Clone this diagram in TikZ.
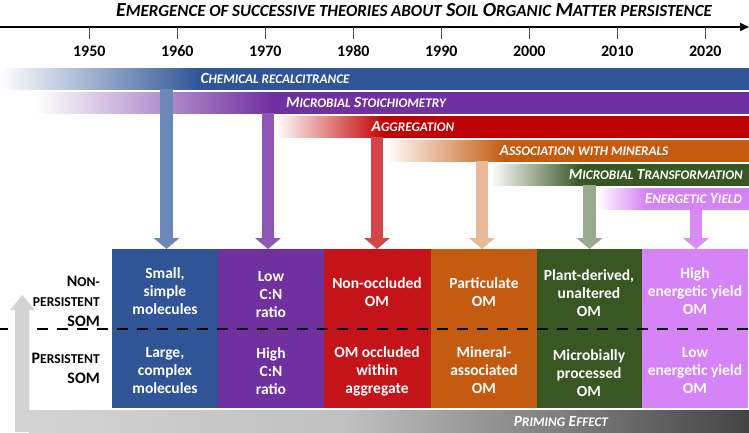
\documentclass[tikz,border=0pt]{standalone}
\usepackage{fontspec}
\setmainfont{Carlito}
\usetikzlibrary{arrows.meta}
\makeatletter
\newcommand\fsc[1]{{\fontsize{\the\dimexpr0.85\dimexpr\f@size pt\relax\relax}{\f@baselineskip}\selectfont #1}}
\makeatother
\definecolor{cBlue}{HTML}{2F5597}
\definecolor{cPurple}{HTML}{7030A0}
\definecolor{cRed}{HTML}{C00000}
\definecolor{cRedBox}{HTML}{C51419}
\definecolor{cOrange}{HTML}{C55A11}
\definecolor{cGreen}{HTML}{385723}
\definecolor{cPink}{HTML}{D683F7}
\definecolor{aBlue}{HTML}{6C88B9}
\definecolor{aPurple}{HTML}{8D58B5}
\definecolor{aRed}{HTML}{D4454A}
\definecolor{aOrange}{HTML}{E8B898}
\definecolor{aGreen}{HTML}{98A98C}
\definecolor{aPink}{HTML}{D98BF5}
\definecolor{gLight}{HTML}{D3D3D3}
\definecolor{gMid}{HTML}{C0C0C0}
\definecolor{gDark}{HTML}{444444}
\pgfdeclarehorizontalshading{shChem}{100bp}{color(0bp)=(white); color(25bp)=(white); color(38.35bp)=(cBlue); color(100bp)=(cBlue)}
\pgfdeclarehorizontalshading{shStoi}{100bp}{color(0bp)=(white); color(25bp)=(white); color(41.6bp)=(cPurple); color(100bp)=(cPurple)}
\pgfdeclarehorizontalshading{shAggr}{100bp}{color(0bp)=(white); color(25bp)=(white); color(36.6bp)=(cRed); color(100bp)=(cRed)}
\pgfdeclarehorizontalshading{shAsso}{100bp}{color(0bp)=(white); color(25bp)=(white); color(41.5bp)=(cOrange); color(100bp)=(cOrange)}
\pgfdeclarehorizontalshading{shTran}{100bp}{color(0bp)=(white); color(25bp)=(white); color(42.4bp)=(cGreen); color(100bp)=(cGreen)}
\pgfdeclarehorizontalshading{shEner}{100bp}{color(0bp)=(white); color(25bp)=(white); color(40.8bp)=(cPink); color(100bp)=(cPink)}
\pgfdeclarehorizontalshading{shPrime}{100bp}{color(0bp)=(gLight); color(25bp)=(gLight); color(47bp)=(gMid); color(75bp)=(gDark); color(100bp)=(gDark)}
\tikzset{
  band/.style={shade, inner sep=0pt, minimum height=21pt, anchor=north west, draw=none},
  bandlabel/.style={text=white, font=\fontsize{15.5}{18}\selectfont\bfseries\itshape, inner sep=0pt},
  box/.style={inner sep=0pt, minimum height=159pt, anchor=north west, draw=none},
  boxtext/.style={text=white, font=\fontsize{15.5}{18}\selectfont\bfseries, align=center, inner sep=0pt},
  fat/.style={line width=12.6pt, -{Triangle[length=11pt,width=26pt,line width=0pt]}},
  yearlabel/.style={font=\fontsize{16}{19}\selectfont\bfseries, inner sep=0pt},
  tickline/.style={line width=0.9pt, draw=black!70},
  sidelabel/.style={font=\fontsize{16}{20}\selectfont\bfseries, align=right, inner sep=0pt, anchor=east},
  divider/.style={line width=2.7pt, dash pattern=on 11pt off 9pt, dash phase=3.3pt},
}
\begin{document}
\begin{tikzpicture}[x=1pt,y=-1pt]
\useasboundingbox (0,0) rectangle (749,433);
% title
\node[font=\fontsize{19.9}{22}\selectfont\bfseries\itshape, inner sep=0pt] (title) at (414,10)
  {E\fsc{MERGENCE OF SUCCESSIVE THEORIES ABOUT} S\fsc{OIL} O\fsc{RGANIC} M\fsc{ATTER PERSISTENCE}};
% axis
\coordinate (axL) at (0,27);
\coordinate (axR) at (749,27);
\draw[line width=1.6pt, -{Triangle[length=9pt,width=8pt]}] (axL) -- (axR);
\foreach \yr [count=\i from 0] in {1950,1960,1970,1980,1990,2000,2010,2020}{
  \coordinate (t\yr) at ({89.3+88*\i},27);
  \coordinate (b\yr) at ({89.3+88*\i},39);
  \draw[tickline] (t\yr) -- (b\yr);
  \node[yearlabel] (y\yr) at ({89.3+88*\i},51) {\yr};
}
% bands
\node[band, shading=shChem, minimum width=749pt] (bChem) at (0,68) {};
\node[band, shading=shStoi, minimum width=714pt] (bStoi) at (35,92) {};
\node[band, shading=shAggr, minimum width=474pt] (bAggr) at (275,116) {};
\node[band, shading=shAsso, minimum width=364pt] (bAsso) at (385,140) {};
\node[band, shading=shTran, minimum width=259pt] (bTran) at (490,164) {};
\node[band, shading=shEner, minimum width=152pt] (bEner) at (597,188) {};
\node[bandlabel] (lChem) at (275,78.5) {C\fsc{HEMICAL RECALCITRANCE}};
\node[bandlabel] (lStoi) at (366,102.5) {M\fsc{ICROBIAL} S\fsc{TOICHIOMETRY}};
\node[bandlabel] (lAggr) at (413,126.5) {A\fsc{GGREGATION}};
\node[bandlabel] (lAsso) at (584,150.5) {A\fsc{SSOCIATION WITH MINERALS}};
\node[bandlabel, anchor=east] (lTran) at (743,174.5) {M\fsc{ICROBIAL} T\fsc{RANSFORMATION}};
\node[bandlabel, anchor=east] (lEner) at (742,198.5) {E\fsc{NERGETIC} Y\fsc{IELD}};
% boxes
\node[box, fill=cBlue, minimum width=106pt] (xA) at (112,249) {};
\node[box, fill=cPurple, minimum width=106pt] (xB) at (218,249) {};
\node[box, fill=cRedBox, minimum width=107pt] (xC) at (324,249) {};
\node[box, fill=cOrange, minimum width=106pt] (xD) at (431,249) {};
\node[box, fill=cGreen, minimum width=105pt] (xE) at (537,249) {};
\node[box, fill=cPink, minimum width=106pt] (xF) at (642,249) {};
% arrows
\coordinate (tA) at (166.5,249);
\coordinate (tB) at (268,249);
\coordinate (tC) at (377,249);
\coordinate (tD) at (482,249);
\coordinate (tE) at (589.5,249);
\coordinate (tF) at (696,249);
\draw[fat, aBlue] (bChem.south -| tA) -- (tA);
\draw[fat, aPurple] (bStoi.south -| tB) -- (tB);
\draw[fat, aRed] (bAggr.south -| tC) -- (tC);
\draw[fat, aOrange] (bAsso.south -| tD) -- (tD);
\draw[fat, aGreen] (bTran.south -| tE) -- (tE);
\draw[fat, aPink] (bEner.south -| tF) -- (tF);
% box texts
\node[boxtext] (uA) at (165,291) {Small,\\simple\\molecules};
\node[boxtext] (uB) at (271,295) {Low\\C:N\\ratio};
\node[boxtext] (uC) at (377,292) {Non-occluded\\OM};
\node[boxtext] (uD) at (484,292) {Particulate\\OM};
\node[boxtext] (uE) at (589,293) {Plant-derived,\\unaltered\\OM};
\node[boxtext] (uF) at (695,291) {High\\energetic yield\\OM};
\node[boxtext] (dA) at (165,371) {Large,\\complex\\molecules};
\node[boxtext] (dB) at (271,371) {High\\C:N\\ratio};
\node[boxtext] (dC) at (377,371) {OM occluded\\within\\aggregate};
\node[boxtext] (dD) at (484,370) {Mineral-\\associated\\OM};
\node[boxtext] (dE) at (589,373) {Microbially\\processed\\OM};
\node[boxtext] (dF) at (695,371) {Low\\energetic yield\\OM};
% side labels
\node[sidelabel] (sTop) at (100,301.5) {N\fsc{ON-}\\\fsc{PERSISTENT}\\SOM};
\node[sidelabel] (sBot) at (100,368) {P\fsc{ERSISTENT}\\SOM};
% divider
\coordinate (dL) at (0,329);
\coordinate (dR) at (749,329);
\draw[divider] (dL) -- (dR);
% priming effect
\fill[gLight] (15,432) -- (15,310) -- (10,310) -- (22.5,295) -- (35,310) -- (29,310) -- (29,410) -- (40,410) -- (40,432) -- cycle;
\node[shade, shading=shPrime, inner sep=0pt, minimum width=720pt, minimum height=22pt, anchor=north west] (prime) at (29,410) {};
\node[font=\fontsize{15.5}{18}\selectfont\bfseries\itshape, text=white, inner sep=0pt] (lPrime) at (561,421.5) {P\fsc{RIMING} E\fsc{FFECT}};
\end{tikzpicture}
\end{document}
